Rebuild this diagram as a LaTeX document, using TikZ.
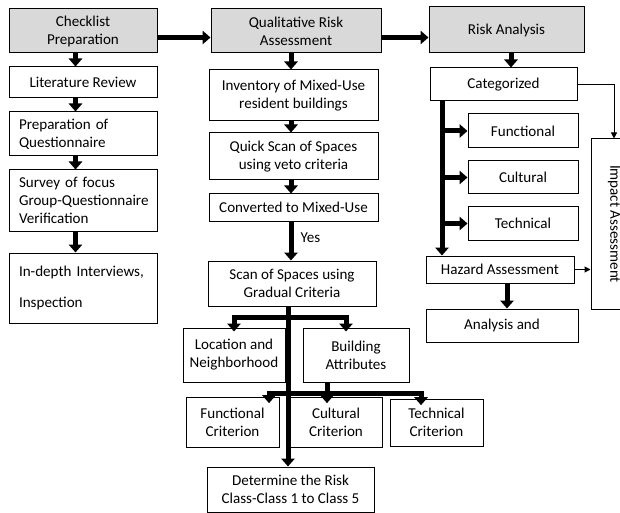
\documentclass[tikz,border=0pt]{standalone}
\usepackage{fontspec}
\setmainfont{Carlito}
\usetikzlibrary{arrows.meta}
\definecolor{boxgray}{RGB}{217,217,217}
\tikzset{
  box/.style={draw, line width=0.75pt, inner sep=0pt, align=center},
  graybox/.style={box, fill=boxgray},
  leftbox/.style={box, align=left, text width=96pt, inner xsep=7.5pt},
  bigarrow/.style={line width=3.75pt, -{Triangle[width=10pt,length=6pt]}},
  bigline/.style={line width=3.75pt},
  thinarrow/.style={line width=0.75pt, -{Triangle[width=4.5pt,length=4.5pt]}},
}
\begin{document}
\begin{tikzpicture}[x=0.75pt, y=-0.75pt, font=\fontsize{11.3pt}{13.5pt}\selectfont]
      \useasboundingbox[fill=white] (0,0) rectangle (620,513);

      % checklist column
      \node[graybox, minimum width=111pt, minimum height=33pt]    (chk) at (83,31) {Checklist\\Preparation};
      \node[box, minimum width=111pt, minimum height=23.25pt]     (lit) at (83,82.5) {Literature Review};
      \node[leftbox, minimum width=111pt, minimum height=33pt]    (prep) at (83,134) {Preparation of\\Questionnaire};
      \node[leftbox, minimum width=111pt, minimum height=45.75pt] (survey) at (83,200.5) {Survey of focus\\\mbox{Group-Questionnaire}\\Verification};
      \node[leftbox, minimum width=111pt, minimum height=52.5pt]  (interv) at (83,288) {In-depth Interviews,\\[9.75pt]Inspection};

      % qualitative column
      \node[graybox, minimum width=127.5pt, minimum height=33pt]  (qra) at (296,31) {Qualitative Risk\\Assessment};
      \node[box, minimum width=126.75pt, minimum height=38.25pt]  (inv) at (293.5,95.5) {Inventory of Mixed-Use\\resident buildings};
      \node[box, minimum width=126.75pt, minimum height=35.25pt]  (quick) at (293.5,156.5) {Quick Scan of Spaces\\using veto criteria};
      \node[box, minimum width=126.75pt, minimum height=20.25pt]  (conv) at (293.5,207.5) {Converted to Mixed-Use};
      \node[anchor=west]                                          (yes) at (296,238) {Yes};
      \node[box, minimum width=126pt, minimum height=33.75pt]     (scan) at (292,283.5) {Scan of Spaces using\\Gradual Criteria};
      \node[box, minimum width=76.5pt, minimum height=40.5pt]     (loc) at (234,355) {Location and\\Neighborhood};
      \node[box, minimum width=79.5pt, minimum height=40.5pt]     (bld) at (356,355) {Building\\Attributes};
      \node[box, minimum width=69.75pt, minimum height=37.5pt]    (fcrit) at (232.5,422) {Functional\\Criterion};
      \node[box, minimum width=69pt, minimum height=37.5pt]       (ccrit) at (336,422) {Cultural\\Criterion};
      \node[box, minimum width=69.75pt, minimum height=35.25pt]   (tcrit) at (436.5,422.5) {Technical\\Criterion};
      \node[box, minimum width=125.25pt, minimum height=33.75pt]  (det) at (290.5,489.5) {Determine the Risk\\Class-Class 1 to Class 5};

      % risk analysis column
      \node[graybox, minimum width=116.25pt, minimum height=34.5pt] (ra) at (506.5,30) {Risk Analysis};
      \node[box, minimum width=110.25pt, minimum height=24.75pt]  (cat) at (503.5,84.5) {Categorized};
      \node[box, minimum width=82.5pt, minimum height=25.5pt]     (func) at (523,131) {Functional};
      \node[box, minimum width=82.5pt, minimum height=24.75pt]    (cult) at (523,177.5) {Cultural};
      \node[box, minimum width=82.5pt, minimum height=24.75pt]    (tech) at (523,223.5) {Technical};
      \node[box, minimum width=111pt, minimum height=20.25pt]     (haz) at (500,269.5) {Hazard Assessment};
      \node[box, minimum width=114pt, minimum height=24.75pt]     (ana) at (502,325.5) {Analysis and};
      % turned clockwise: its west anchor is on top, its south anchor on the left
      \node[box, rotate=-90, minimum width=127.5pt, minimum height=34.5pt] (imp) at (614,224) {Impact Assessment};

      % guide lines for the arrows
      \coordinate (topy) at (0,37.5);
      \coordinate (leftx) at (75.5,0);
      \coordinate (midx) at (291,0);
      \coordinate (spine) at (288,0);
      \coordinate (bar1) at (288,317);
      \coordinate (bar2) at (327,393);
      \coordinate (rax) at (511,0);
      \coordinate (catx) at (442,0);
      \coordinate (hazx) at (507,0);

      % top row
      \draw[bigarrow] (chk.east |- topy) -- (qra.west |- topy);
      \draw[bigarrow] (qra.east |- topy) -- (ra.west |- topy);

      % checklist column
      \draw[bigarrow] (chk.south -| leftx) -- (lit.north -| leftx);
      \draw[bigarrow] (lit.south -| leftx) -- (prep.north -| leftx);
      \draw[bigarrow] (prep.south -| leftx) -- (survey.north -| leftx);
      \draw[bigarrow] (survey.south -| leftx) -- (interv.north -| leftx);

      % qualitative column
      \draw[bigarrow] (qra.south -| midx) -- (inv.north -| midx);
      \draw[bigarrow] (inv.south -| midx) -- (quick.north -| midx);
      \draw[bigarrow] (quick.south -| midx) -- (conv.north -| midx);
      \draw[bigarrow] (conv.south -| midx) -- (scan.north -| midx);
      \draw[bigarrow] (scan.south -| spine) -- (det.north -| spine);
      \draw[bigarrow] (bar1) -| ([yshift=-3pt]loc.north);
      \draw[bigarrow] (bar1) -| ([xshift=-7.5pt,yshift=-3pt]bld.north);
      \draw[bigline]  (bld.south -| bar2) -- (bar2);
      \draw[bigarrow] (bar2) -| ([xshift=27.4pt,yshift=-5pt]fcrit.north);
      \draw[bigarrow] (bar2) -- ([xshift=-6.75pt,yshift=-5pt]ccrit.north);
      \draw[bigarrow] (bar2) -| ([xshift=-11.6pt,yshift=-5pt]tcrit.north);

      % risk analysis column
      \draw[bigarrow] (ra.south -| rax) -- (cat.north -| rax);
      \draw[bigarrow] (cat.south -| catx) -- (haz.north -| catx);
      \draw[bigarrow] (func.west -| catx) -- (func.west);
      \draw[bigarrow] (cult.west -| catx) -- (cult.west);
      \draw[bigarrow] (tech.west -| catx) -- (tech.west);
      \draw[bigarrow] (haz.south -| hazx) -- (ana.north -| hazx);
      \draw[thinarrow] (cat.east) -| (imp.west);
      \draw[thinarrow] (haz.east) -- (haz.east -| imp.south);
    \end{tikzpicture}
\end{document}
